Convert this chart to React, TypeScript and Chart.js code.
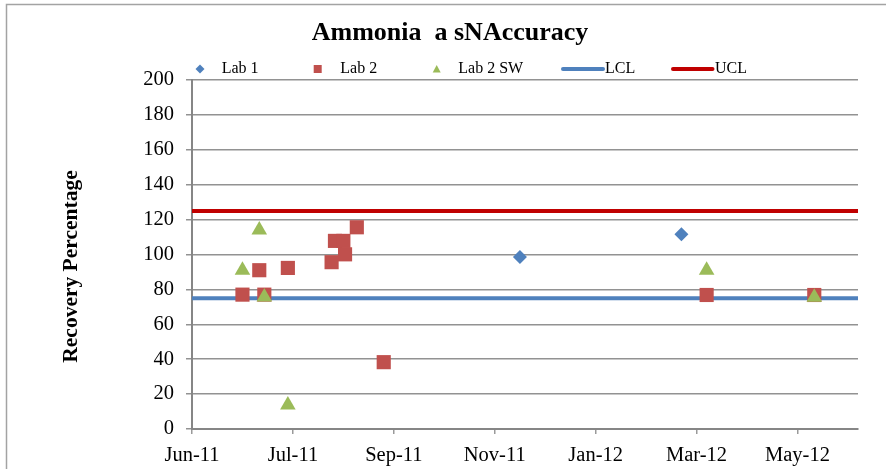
import React, { useEffect, useRef } from 'react';
import { Chart, registerables } from 'chart.js';

Chart.register(...registerables);

// ---- Axis definition ----
const START_DATE = '2011-06-01';
const END_DATE = '2012-07-01';
const TICK_STEP_DAYS = 60;
const xTickLabels = ['Jun-11', 'Jul-11', 'Sep-11', 'Nov-11', 'Jan-12', 'Mar-12', 'May-12'];
const Y_MIN = 0;
const Y_MAX = 200;
const Y_STEP = 20;

const TITLE = 'Ammonia  a sNAccuracy';
const Y_TITLE = 'Recovery Percentage';

// ---- Series ----
const lab1Dates = ['2011-12-13', '2012-03-18'];
const lab1Values = [98.6, 111.6];

const lab2Dates = [
  '2011-07-01', '2011-07-11', '2011-07-14', '2011-07-28', '2011-08-23', '2011-08-25',
  '2011-08-30', '2011-08-31', '2011-09-07', '2011-09-23', '2012-04-02', '2012-06-05',
];
const lab2Values = [77, 91, 77, 92.3, 95.6, 107.8, 107.8, 100.1, 115.6, 38.3, 76.8, 76.8];

const lab2SwDates = ['2011-07-01', '2011-07-11', '2011-07-14', '2011-07-28', '2012-04-02', '2012-06-05'];
const lab2SwValues = [91, 114, 75.6, 13.8, 91, 75.5];

const lclDates = [START_DATE, END_DATE];
const lclValues = [75, 75];
const uclDates = [START_DATE, END_DATE];
const uclValues = [125, 125];

const FONT = "'Liberation Serif', 'Times New Roman', serif";

const dayMs = 86400000;
const toDays = (d: string) => (Date.parse(d) - Date.parse(START_DATE)) / dayMs;
const toPoints = (dates: string[], values: number[]) =>
  dates.map((d, i) => ({ x: toDays(d), y: values[i] }));

// legend layout (pixel positions of marker centre / text start)
const LEGEND_Y = 69;
const LEGEND_ITEMS = [
  { marker: 200, text: 221.7 },
  { marker: 317.7, text: 340.3 },
  { marker: 436.7, text: 458.3 },
  { marker: 583, text: 605, lineFrom: 563, lineTo: 603 },
  { marker: 693, text: 715, lineFrom: 673, lineTo: 712.5 },
];

const decorPlugin = {
  id: 'decor',
  beforeDraw(chart: any) {
    const ctx = chart.ctx;
    ctx.save();
    ctx.strokeStyle = '#a3a3a3';
    ctx.lineWidth = 1.5;
    ctx.beginPath();
    ctx.moveTo(6.5, chart.height);
    ctx.lineTo(6.5, 4.5);
    ctx.lineTo(chart.width, 4.5);
    ctx.stroke();
    ctx.restore();
  },
  afterDraw(chart: any) {
    const ctx = chart.ctx;
    ctx.save();
    // y axis title
    ctx.translate(71.5, 266.5);
    ctx.rotate(-Math.PI / 2);
    ctx.font = `bold 21.5px ${FONT}`;
    ctx.fillStyle = '#000';
    ctx.textAlign = 'center';
    ctx.textBaseline = 'middle';
    ctx.fillText(Y_TITLE, 0, 0);
    ctx.restore();

    // legend
    ctx.save();
    ctx.font = `16px ${FONT}`;
    ctx.textBaseline = 'middle';
    ctx.textAlign = 'left';
    chart.data.datasets.forEach((ds: any, i: number) => {
      const pos = LEGEND_ITEMS[i];
      const y = LEGEND_Y;
      const x = pos.marker;
      ctx.fillStyle = ds.backgroundColor;
      ctx.strokeStyle = ds.borderColor;
      if (ds.showLine) {
        ctx.lineWidth = 4;
        ctx.lineCap = 'round';
        ctx.beginPath();
        ctx.moveTo(pos.lineFrom, y);
        ctx.lineTo(pos.lineTo, y);
        ctx.stroke();
      } else if (ds.pointStyle === 'rectRot') {
        const r = 4.5;
        ctx.beginPath();
        ctx.moveTo(x - r, y);
        ctx.lineTo(x, y - r);
        ctx.lineTo(x + r, y);
        ctx.lineTo(x, y + r);
        ctx.closePath();
        ctx.fill();
      } else if (ds.pointStyle === 'rect') {
        ctx.fillRect(x - 4, y - 4, 8, 8);
      } else if (ds.pointStyle === 'triangle') {
        ctx.beginPath();
        ctx.moveTo(x, y - 4);
        ctx.lineTo(x + 4, y + 3.5);
        ctx.lineTo(x - 4, y + 3.5);
        ctx.closePath();
        ctx.fill();
      }
      ctx.fillStyle = '#000';
      ctx.fillText(ds.label, pos.text, y);
    });
    ctx.restore();
  },
};

export default function App() {
  const canvasRef = useRef<HTMLCanvasElement | null>(null);

  useEffect(() => {
    if (!canvasRef.current) return;
    const chart = new Chart(canvasRef.current, {
      type: 'scatter',
      data: {
        datasets: [
          {
            label: 'Lab 1',
            data: toPoints(lab1Dates, lab1Values),
            pointStyle: 'rectRot',
            pointRadius: 7,
            pointBorderWidth: 0,
            backgroundColor: '#4F81BD',
            borderColor: '#4F81BD',
            order: 0,
          },
          {
            label: 'Lab 2',
            data: toPoints(lab2Dates, lab2Values),
            pointStyle: 'rect',
            pointRadius: 10,
            pointBorderWidth: 0,
            backgroundColor: '#C0504D',
            borderColor: '#C0504D',
            order: 2,
          },
          {
            label: 'Lab 2 SW',
            data: toPoints(lab2SwDates, lab2SwValues),
            pointStyle: 'triangle',
            pointRadius: 9,
            pointBorderWidth: 0,
            backgroundColor: '#9BBB59',
            borderColor: '#9BBB59',
            order: 1,
          },
          {
            label: 'LCL',
            data: toPoints(lclDates, lclValues),
            showLine: true,
            pointRadius: 0,
            borderWidth: 4,
            borderColor: '#4F81BD',
            backgroundColor: '#4F81BD',
            order: 3,
          },
          {
            label: 'UCL',
            data: toPoints(uclDates, uclValues),
            showLine: true,
            pointRadius: 0,
            borderWidth: 4,
            borderColor: '#C00000',
            backgroundColor: '#C00000',
            order: 4,
          },
        ] as any,
      },
      options: {
        animation: false,
        responsive: false,
        events: [],
        layout: { padding: { left: 42, right: 28, top: 0, bottom: 0 } },
        plugins: {
          legend: { display: false },
          tooltip: { enabled: false },
          title: {
            display: true,
            text: TITLE,
            color: '#000',
            font: { family: FONT, size: 26, weight: 'bold' },
            padding: { top: 18, bottom: 30.8 },
          },
        },
        scales: {
          x: {
            type: 'linear',
            min: 0,
            max: toDays(END_DATE),
            afterFit: (scale: any) => {
              scale.height = 40;
            },
            border: { display: true, color: '#868686', width: 2 },
            grid: {
              drawOnChartArea: false,
              drawTicks: true,
              tickLength: 5,
              color: '#9a9a9a',
              lineWidth: 1.5,
            },
            ticks: {
              stepSize: TICK_STEP_DAYS,
              includeBounds: false,
              autoSkip: false,
              maxRotation: 0,
              padding: 9,
              color: '#000',
              font: { family: FONT, size: 20.5 },
              callback: (_v: any, i: number) => xTickLabels[i],
            },
          },
          y: {
            type: 'linear',
            min: Y_MIN,
            max: Y_MAX,
            afterFit: (scale: any) => {
              scale.width = 150;
            },
            border: { display: true, color: '#868686', width: 2 },
            grid: {
              drawOnChartArea: true,
              drawTicks: true,
              tickLength: 6,
              color: '#929292',
              lineWidth: 1.5,
            },
            ticks: {
              stepSize: Y_STEP,
              padding: 12,
              color: '#000',
              font: { family: FONT, size: 20.5 },
            },
          },
        },
      } as any,
      plugins: [decorPlugin],
    });
    return () => chart.destroy();
  }, []);

  return (
    <div style={{ position: 'absolute', left: 0, top: 0, width: 886, height: 469, background: '#fff' }}>
      <canvas ref={canvasRef} width={886} height={469} style={{ display: 'block' }} />
    </div>
  );
}
